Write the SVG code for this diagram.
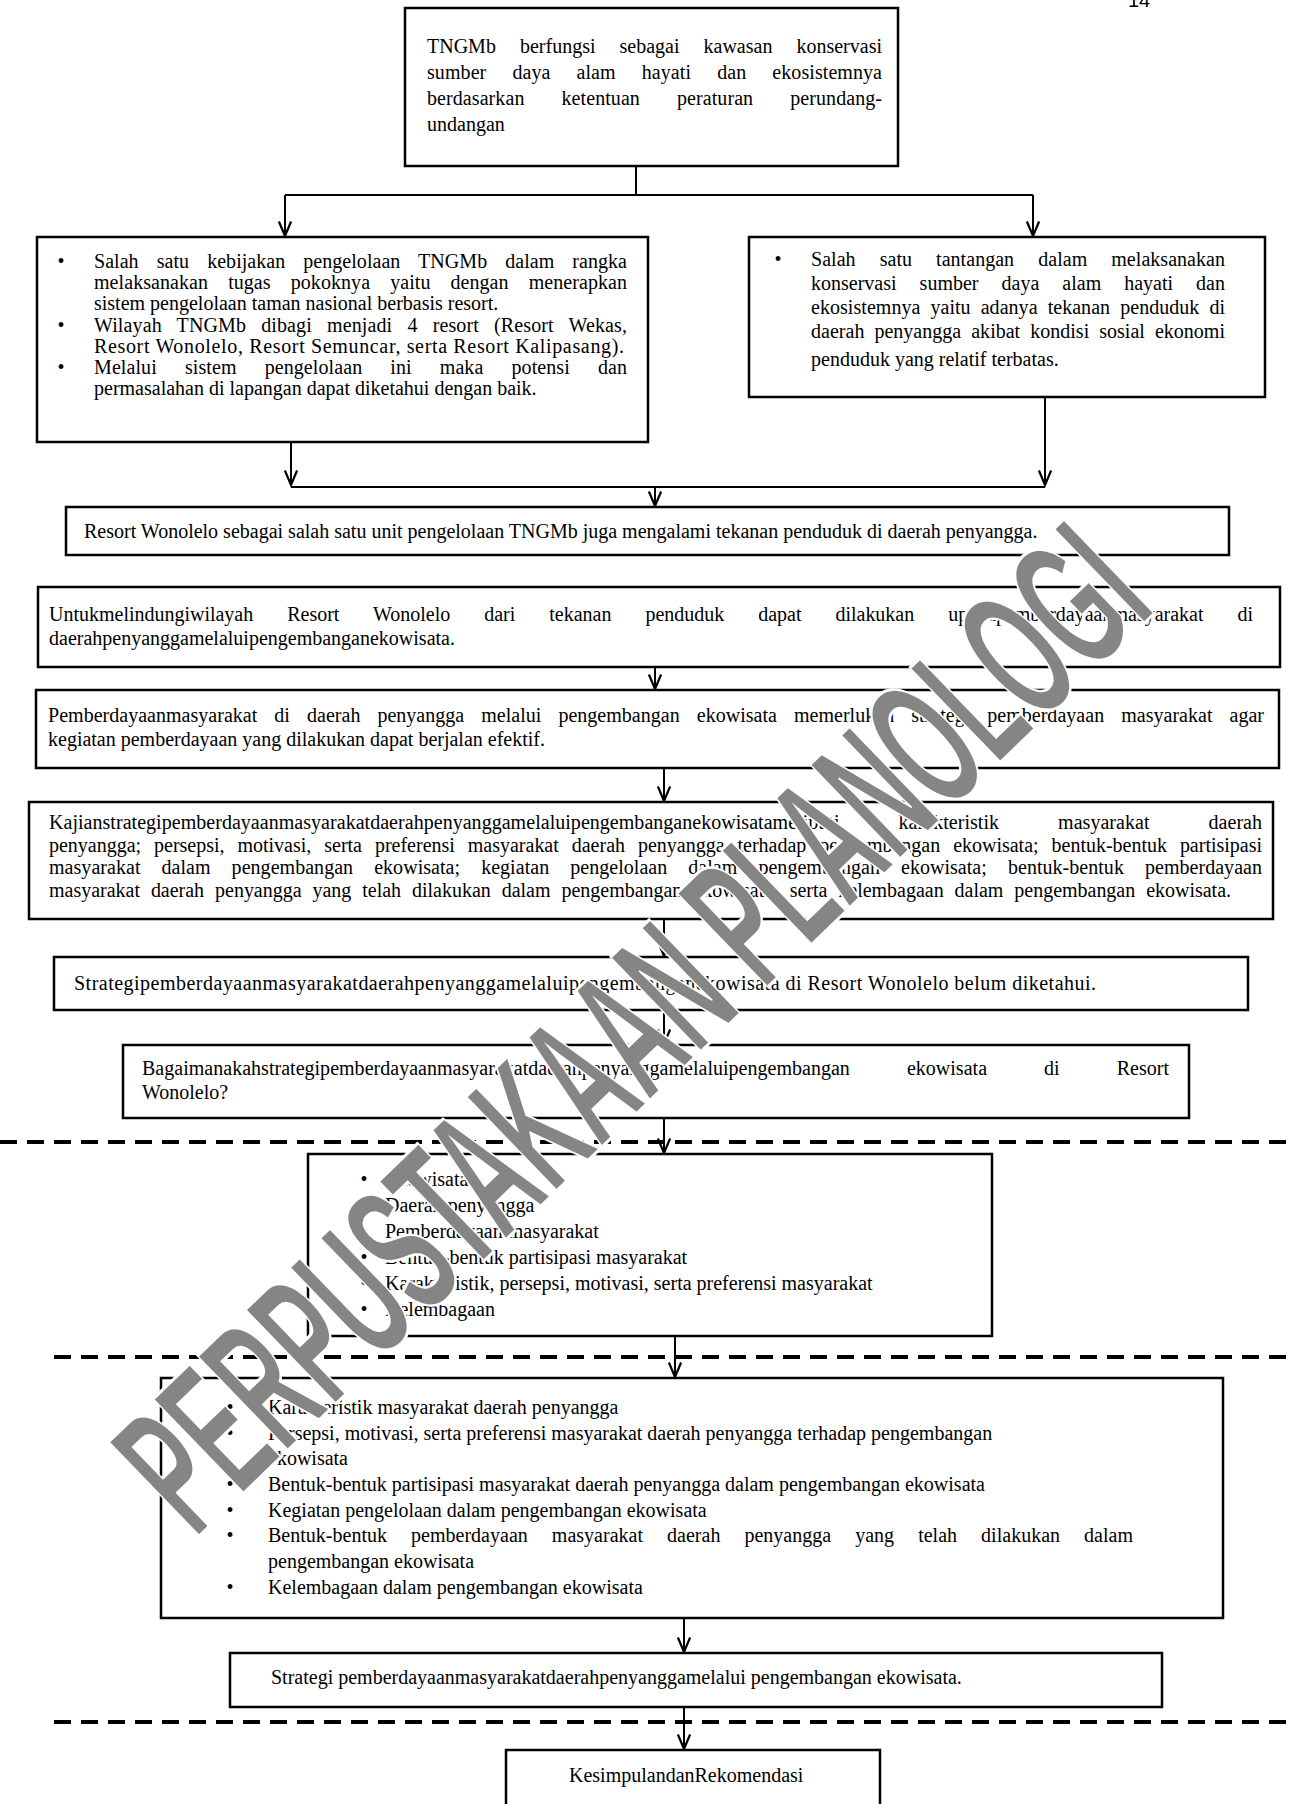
<svg xmlns="http://www.w3.org/2000/svg" width="1293" height="1804" viewBox="0 0 1293 1804">
<defs>
<marker id="ah" markerUnits="userSpaceOnUse" markerWidth="20" markerHeight="20" refX="0" refY="0" orient="auto" viewBox="-16 -8 18 16" overflow="visible">
<path d="M-13,-5.5 L0,0 L-13,5.5" fill="none" stroke="#000" stroke-width="2"/>
</marker>
</defs>
<style>
.t{font-family:"Liberation Serif","Times New Roman",serif;font-size:20px;fill:#000}
.b{font-family:"Liberation Serif","Times New Roman",serif;font-size:20px;fill:#000;text-anchor:middle}
.box{fill:#fff;stroke:#000;stroke-width:2.5}
.c{stroke:#000;stroke-width:2;fill:none}
.a{marker-end:url(#ah)}
.d{stroke:#000;stroke-width:4;stroke-dasharray:17 10;fill:none}
.wm{font-family:"Liberation Sans",Arial,sans-serif;font-weight:bold;font-size:190px;fill:#858585;stroke:#fff;stroke-width:3}
</style>
<rect width="1293" height="1804" fill="#fff"/>
<text x="1128" y="7" style="font-family:'Liberation Sans',Arial,sans-serif;font-size:20px">14</text>

<g id="connectors">
<path class="c" d="M636,166 V195 M285,195 H1033"/>
<path class="c a" d="M285,195 V236"/>
<path class="c a" d="M1033,195 V236"/>
<path class="c a" d="M291,442 V485"/>
<path class="c a" d="M1045,397 V485"/>
<path class="c" d="M291,487 H1045"/>
<path class="c a" d="M655,487 V506"/>
<path class="c a" d="M655,667 V689"/>
<path class="c a" d="M664,768 V801"/>
<path class="c a" d="M664,919 V956"/>
<path class="c a" d="M664,1010 V1044"/>
<path class="c a" d="M664,1118 V1153"/>
<path class="c a" d="M675,1336 V1377"/>
<path class="c a" d="M684,1618 V1652"/>
<path class="c a" d="M684,1707 V1749"/>
<path class="d" d="M0,1142 H1293"/>
<path class="d" d="M54,1357 H1293"/>
<path class="d" d="M54,1722 H1293"/>
</g>

<g id="n1">
<rect class="box" x="405" y="8" width="493" height="158"/>
<text class="t" x="427" y="53" word-spacing="19" textLength="455" lengthAdjust="spacing">TNGMb berfungsi sebagai kawasan konservasi</text>
<text class="t" x="427" y="79" word-spacing="21" textLength="455" lengthAdjust="spacing">sumber daya alam hayati dan ekosistemnya</text>
<text class="t" x="427" y="105" word-spacing="32" textLength="455" lengthAdjust="spacing">berdasarkan ketentuan peraturan perundang-</text>
<text class="t" x="427" y="131">undangan</text>
</g>

<g id="n2">
<rect class="box" x="37" y="237" width="611" height="205"/>
<text class="b" x="61" y="268">•</text>
<text class="b" x="61" y="332">•</text>
<text class="b" x="61" y="374">•</text>
<text class="t" x="94" y="268" word-spacing="13" textLength="533" lengthAdjust="spacing">Salah satu kebijakan pengelolaan TNGMb dalam rangka</text>
<text class="t" x="94" y="289" word-spacing="15" textLength="533" lengthAdjust="spacing">melaksanakan tugas pokoknya yaitu dengan menerapkan</text>
<text class="t" x="94" y="310">sistem pengelolaan taman nasional berbasis resort.</text>
<text class="t" x="94" y="332" word-spacing="10" textLength="533" lengthAdjust="spacing">Wilayah TNGMb dibagi menjadi 4 resort (Resort Wekas,</text>
<text class="t" x="94" y="353" textLength="530" lengthAdjust="spacing">Resort Wonolelo, Resort Semuncar, serta Resort Kalipasang).</text>
<text class="t" x="94" y="374" word-spacing="23" textLength="533" lengthAdjust="spacing">Melalui sistem pengelolaan ini maka potensi dan</text>
<text class="t" x="94" y="395">permasalahan di lapangan dapat diketahui dengan baik.</text>
</g>

<g id="n3">
<rect class="box" x="749" y="237" width="516" height="160"/>
<text class="b" x="778" y="266">•</text>
<text class="t" x="811" y="266" word-spacing="19" textLength="414" lengthAdjust="spacing">Salah satu tantangan dalam melaksanakan</text>
<text class="t" x="811" y="290" word-spacing="18" textLength="414" lengthAdjust="spacing">konservasi sumber daya alam hayati dan</text>
<text class="t" x="811" y="314" word-spacing="5" textLength="414" lengthAdjust="spacing">ekosistemnya yaitu adanya tekanan penduduk di</text>
<text class="t" x="811" y="338" word-spacing="5" textLength="414" lengthAdjust="spacing">daerah penyangga akibat kondisi sosial ekonomi</text>
<text class="t" x="811" y="366">penduduk yang relatif terbatas.</text>
</g>

<g id="n4">
<rect class="box" x="66" y="507" width="1163" height="48"/>
<text class="t" x="84" y="538">Resort Wonolelo sebagai salah satu unit pengelolaan TNGMb juga mengalami tekanan penduduk di daerah penyangga.</text>
</g>

<g id="n5">
<rect class="box" x="38" y="587" width="1242" height="80"/>
<text class="t" x="49" y="621" word-spacing="29" textLength="1204" lengthAdjust="spacing">Untukmelindungiwilayah Resort Wonolelo dari tekanan penduduk dapat dilakukan upayapemberdayaanmasyarakat di</text>
<text class="t" x="49" y="645">daerahpenyanggamelaluipengembanganekowisata.</text>
</g>

<g id="n6">
<rect class="box" x="36" y="690" width="1243" height="78"/>
<text class="t" x="48" y="722" word-spacing="12" textLength="1216" lengthAdjust="spacing">Pemberdayaanmasyarakat di daerah penyangga melalui pengembangan ekowisata memerlukan strategi pemberdayaan masyarakat agar</text>
<text class="t" x="48" y="746">kegiatan pemberdayaan yang dilakukan dapat berjalan efektif.</text>
</g>

<g id="n7">
<rect class="box" x="29" y="802" width="1244" height="117"/>
<text class="t" x="49" y="829" word-spacing="54" textLength="1213" lengthAdjust="spacing">Kajianstrategipemberdayaanmasyarakatdaerahpenyanggamelaluipengembanganekowisatameliputi karakteristik masyarakat daerah</text>
<text class="t" x="49" y="852" word-spacing="8" textLength="1213" lengthAdjust="spacing">penyangga; persepsi, motivasi, serta preferensi masyarakat daerah penyangga terhadap pengembangan ekowisata; bentuk-bentuk partisipasi</text>
<text class="t" x="49" y="874" word-spacing="16" textLength="1213" lengthAdjust="spacing">masyarakat dalam pengembangan ekowisata; kegiatan pengelolaan dalam pengembangan ekowisata; bentuk-bentuk pemberdayaan</text>
<text class="t" x="49" y="897" word-spacing="6" textLength="1182" lengthAdjust="spacing">masyarakat daerah penyangga yang telah dilakukan dalam pengembangan ekowisata; serta kelembagaan dalam pengembangan ekowisata.</text>
</g>

<g id="n8">
<rect class="box" x="54" y="957" width="1194" height="53"/>
<text class="t" x="74" y="990" textLength="1022" lengthAdjust="spacing">Strategipemberdayaanmasyarakatdaerahpenyanggamelaluipengembanganekowisata di Resort Wonolelo belum diketahui.</text>
</g>

<g id="n9">
<rect class="box" x="123" y="1045" width="1066" height="73"/>
<text class="t" x="142" y="1075" word-spacing="52" textLength="1027" lengthAdjust="spacing">Bagaimanakahstrategipemberdayaanmasyarakatdaerahpenyanggamelaluipengembangan ekowisata di Resort</text>
<text class="t" x="142" y="1099">Wonolelo?</text>
</g>

<g id="n10">
<rect class="box" x="308" y="1154" width="684" height="182"/>
<text class="b" x="364" y="1186">•</text>
<text class="b" x="364" y="1212">•</text>
<text class="b" x="364" y="1238">•</text>
<text class="b" x="364" y="1264">•</text>
<text class="b" x="364" y="1290">•</text>
<text class="b" x="364" y="1316">•</text>
<text class="t" x="385" y="1186">Ekowisata</text>
<text class="t" x="385" y="1212">Daerah penyangga</text>
<text class="t" x="385" y="1238">Pemberdayaan masyarakat</text>
<text class="t" x="385" y="1264">Bentuk-bentuk partisipasi masyarakat</text>
<text class="t" x="385" y="1290">Karakteristik, persepsi, motivasi, serta preferensi masyarakat</text>
<text class="t" x="385" y="1316">Kelembagaan</text>
</g>

<g id="n11">
<rect class="box" x="161" y="1378" width="1062" height="240"/>
<text class="b" x="230" y="1414">•</text>
<text class="b" x="230" y="1440">•</text>
<text class="b" x="230" y="1491">•</text>
<text class="b" x="230" y="1517">•</text>
<text class="b" x="230" y="1542">•</text>
<text class="b" x="230" y="1594">•</text>
<text class="t" x="268" y="1414">Karakteristik  masyarakat daerah penyangga</text>
<text class="t" x="268" y="1440">Persepsi, motivasi, serta preferensi masyarakat daerah penyangga  terhadap pengembangan</text>
<text class="t" x="268" y="1465">ekowisata</text>
<text class="t" x="268" y="1491">Bentuk-bentuk partisipasi masyarakat daerah penyangga dalam pengembangan ekowisata</text>
<text class="t" x="268" y="1517">Kegiatan pengelolaan dalam pengembangan ekowisata</text>
<text class="t" x="268" y="1542" word-spacing="19" textLength="865" lengthAdjust="spacing">Bentuk-bentuk pemberdayaan masyarakat daerah penyangga yang telah dilakukan dalam</text>
<text class="t" x="268" y="1568">pengembangan ekowisata</text>
<text class="t" x="268" y="1594">Kelembagaan dalam pengembangan  ekowisata</text>
</g>

<g id="n12">
<rect class="box" x="230" y="1653" width="932" height="54"/>
<text class="t" x="271" y="1684">Strategi pemberdayaanmasyarakatdaerahpenyanggamelalui pengembangan  ekowisata.</text>
</g>

<g id="n13">
<rect class="box" x="506" y="1750" width="374" height="58"/>
<text class="t" x="569" y="1782">KesimpulandanRekomendasi</text>
</g>

<g id="watermark">
<text class="wm" transform="translate(195,1540) rotate(-44) scale(0.487,1)">PERPUSTAKAAN PLANOLOGI</text>
</g>
</svg>
